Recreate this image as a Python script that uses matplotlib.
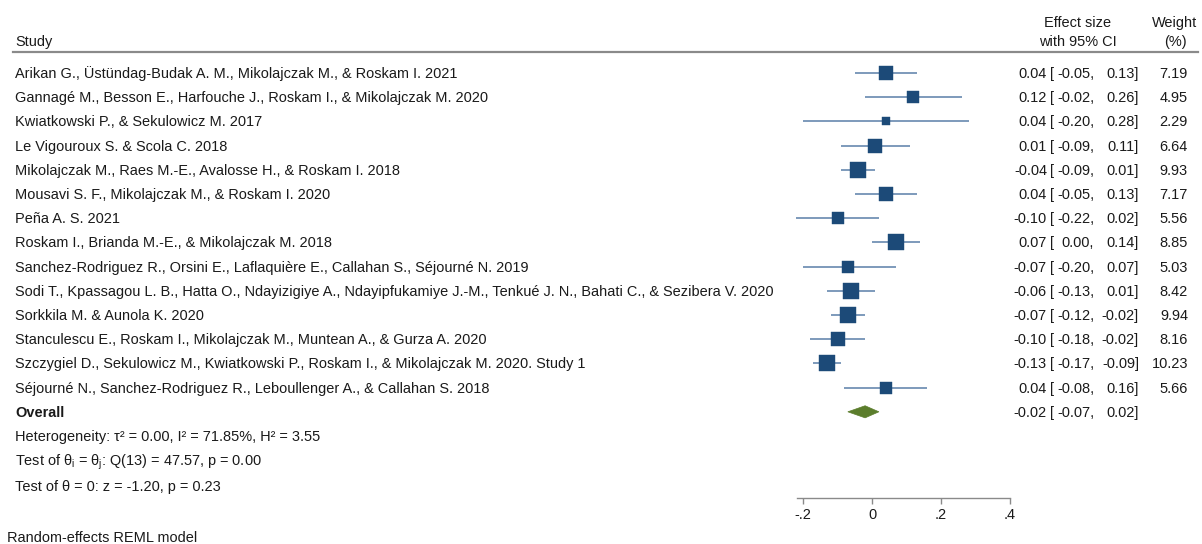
"""Forest plot of random-effects meta-analysis (REML)."""

import matplotlib

matplotlib.use("Agg")
import matplotlib.pyplot as plt
import numpy as np
from matplotlib.patches import Polygon
from matplotlib.transforms import blended_transform_factory, offset_copy

plt.rcParams["font.family"] = ["Liberation Sans", "DejaVu Sans"]
plt.rcParams["mathtext.default"] = "regular"
plt.rcParams["mathtext.fontset"] = "custom"
plt.rcParams["mathtext.rm"] = "Liberation Sans"

STUDIES = [
    "Arikan G., Üstündag-Budak A. M., Mikolajczak M., & Roskam I. 2021",
    "Gannagé M., Besson E., Harfouche J., Roskam I., & Mikolajczak M. 2020",
    "Kwiatkowski P., & Sekulowicz M. 2017",
    "Le Vigouroux S. & Scola C. 2018",
    "Mikolajczak M., Raes M.-E., Avalosse H., & Roskam I. 2018",
    "Mousavi S. F., Mikolajczak M., & Roskam I. 2020",
    "Peña A. S. 2021",
    "Roskam I., Brianda M.-E., & Mikolajczak M. 2018",
    "Sanchez-Rodriguez R., Orsini E., Laflaquière E., Callahan S., Séjourné N. 2019",
    "Sodi T., Kpassagou L. B., Hatta O., Ndayizigiye A., Ndayipfukamiye J.-M., Tenkué J. N., Bahati C., & Sezibera V. 2020",
    "Sorkkila M. & Aunola K. 2020",
    "Stanculescu E., Roskam I., Mikolajczak M., Muntean A., & Gurza A. 2020",
    "Szczygiel D., Sekulowicz M., Kwiatkowski P., Roskam I., & Mikolajczak M. 2020. Study 1",
    "Séjourné N., Sanchez-Rodriguez R., Leboullenger A., & Callahan S. 2018",
]
EST = [0.04, 0.12, 0.04, 0.01, -0.04, 0.04, -0.10, 0.07, -0.07, -0.06, -0.07, -0.10, -0.13, 0.04]
LOW = [-0.05, -0.02, -0.20, -0.09, -0.09, -0.05, -0.22, 0.00, -0.20, -0.13, -0.12, -0.18, -0.17, -0.08]
HIGH = [0.13, 0.26, 0.28, 0.11, 0.01, 0.13, 0.02, 0.14, 0.07, 0.01, -0.02, -0.02, -0.09, 0.16]
WEIGHT = [7.19, 4.95, 2.29, 6.64, 9.93, 7.17, 5.56, 8.85, 5.03, 8.42, 9.94, 8.16, 10.23, 5.66]

OVERALL = (-0.02, -0.07, 0.02)
STATS = [
    "Heterogeneity: τ² = 0.00, I² = 71.85%, H² = 3.55",
    r"Test of θ$_i$ = θ$_j$: Q(13) = 47.57, p = 0.00",
    "Test of θ = 0: z = -1.20, p = 0.23",
]
XTICKS = [-0.2, 0.0, 0.2, 0.4]
XTICKLABELS = ["-.2", "0", ".2", ".4"]

W, H = 1202, 544
ROW0, ROWH = 73, 24.2  # pixel y of first row and row spacing
AX_LEFT, AX_RIGHT, AX_BOTTOM = 797, 1010, 498
FS = 10.45
TXT = "#1a1a1a"
SQUARE = "#1c4a78"
LINE = "#5a7fa8"
DIAMOND = "#5b7d2c"


def fmt(v: float) -> str:
    return f"{v:.2f}"


def main() -> None:
    fig = plt.figure(figsize=(W / 100, H / 100), dpi=100)
    y_bottom = (AX_BOTTOM - ROW0) / ROWH
    y_top = -ROW0 / ROWH
    ax = fig.add_axes([AX_LEFT / W, (H - AX_BOTTOM) / H, (AX_RIGHT - AX_LEFT) / W, AX_BOTTOM / H])
    xmin = 0.4 - (AX_RIGHT - AX_LEFT) / ((942 - 873) / 0.2)
    ax.set_xlim(xmin, 0.4)
    ax.set_ylim(y_bottom, y_top)
    ax.patch.set_visible(False)
    for side in ("top", "right", "left"):
        ax.spines[side].set_visible(False)
    ax.spines["bottom"].set_color("#8a8a8a")
    ax.spines["bottom"].set_linewidth(1.0)
    ax.set_yticks([])
    ax.set_xticks(XTICKS, XTICKLABELS)
    ax.tick_params(axis="x", direction="out", length=4, width=1.0, color="#8a8a8a",
                   labelsize=FS, labelcolor=TXT, pad=3)

    rows = np.arange(len(STUDIES))
    for i, (e, lo, hi, w) in enumerate(zip(EST, LOW, HIGH, WEIGHT)):
        ax.plot([lo, hi], [rows[i], rows[i]], color=LINE, lw=1.1, solid_capstyle="butt", clip_on=False)
        ax.plot(e, rows[i], marker="s", ms=3.75 * np.sqrt(w), color=SQUARE, mec=SQUARE, mew=0.3,
                clip_on=False, zorder=3)

    y_ov = len(STUDIES)
    est_o, lo_o, hi_o = OVERALL
    ax.add_patch(Polygon([[lo_o, y_ov], [est_o, y_ov - 0.25], [hi_o, y_ov], [est_o, y_ov + 0.25]],
                         closed=True, fc=DIAMOND, ec=DIAMOND, lw=0.5, clip_on=False, zorder=3))

    # text rows: x in figure fraction, y in row units, baseline shifted below row centre
    tr = offset_copy(blended_transform_factory(fig.transFigure, ax.transData), fig=fig, y=-5, units="dots")

    def px(x: float) -> float:
        return x / W

    def row_text(x, y, s, ha="left", **kw):
        fig.text(px(x), y, s, transform=tr, ha=ha, va="baseline", fontsize=FS, color=TXT, **kw)

    def head(x, ypix, s, ha="left"):
        fig.text(px(x), 1 - (ypix + 5) / H, s, ha=ha, va="baseline", fontsize=FS, color=TXT)

    head(15, 41, "Study")
    head(1078, 22, "Effect size", ha="center")
    head(1078, 41, "with 95% CI", ha="center")
    head(1175, 22, "Weight", ha="center")
    head(1175, 41, "(%)", ha="center")
    fig.add_artist(plt.Line2D([px(13), px(1198)], [1 - 52 / H, 1 - 52 / H], color="#8a8a8a", lw=1.6))

    def ci_cols(y, e, lo, hi):
        row_text(1047, y, fmt(e), ha="right")
        row_text(1050, y, "[")
        row_text(1094, y, fmt(lo) + ",", ha="right")
        row_text(1139, y, fmt(hi) + "]", ha="right")

    for i, name in enumerate(STUDIES):
        row_text(15, rows[i], name)
        ci_cols(rows[i], EST[i], LOW[i], HIGH[i])
        row_text(1188, rows[i], fmt(WEIGHT[i]), ha="right")

    row_text(15, y_ov, "Overall", fontweight="bold")
    ci_cols(y_ov, est_o, lo_o, hi_o)

    for k, s in enumerate(STATS):
        row_text(15, y_ov + 1 + k * 1.03, s)

    head(7, 537, "Random-effects REML model")

    fig.savefig("out.png", dpi=100)
    plt.close(fig)


if __name__ == "__main__":
    main()
